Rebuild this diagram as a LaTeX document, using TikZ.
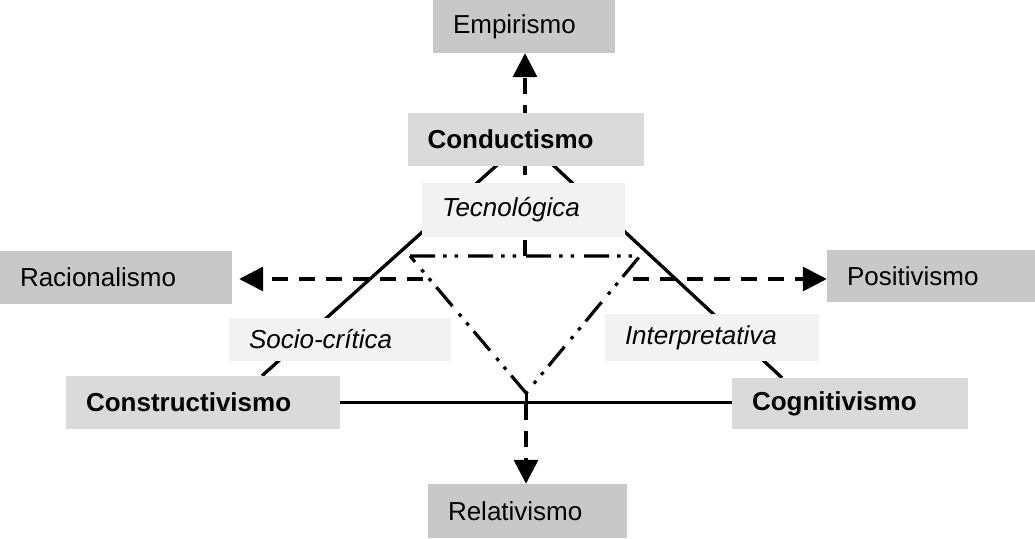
\documentclass[tikz,border=0pt]{standalone}
\usepackage{fontspec}
\setmainfont{Liberation Sans}
\usetikzlibrary{arrows.meta,backgrounds}

\definecolor{grisA}{RGB}{200,200,200}
\definecolor{grisB}{RGB}{218,218,218}
\definecolor{grisC}{RGB}{242,242,242}

\begin{document}
\begin{tikzpicture}[x=1pt,y=-1pt]
   \useasboundingbox (0,0) rectangle (1035,538);
   \begin{scope}[every node/.style={inner xsep=20pt,inner ysep=0pt,align=left,font=\fontsize{26}{30}\selectfont}]
    \node[fill=grisA,text width=142pt,minimum height=53pt] (emp) at (524,26.5) {Empirismo};
    \node[fill=grisB,text width=196pt,minimum height=53pt,font=\fontsize{26}{30}\selectfont\bfseries] (cond) at (525.5,139.5) {Conductismo};
    \node[fill=grisC,text width=163pt,minimum height=54pt,font=\fontsize{26}{30}\selectfont\itshape] (tec) at (523.5,210) {Tecnológica};
    \node[fill=grisA,text width=192pt,minimum height=53pt] (rac) at (116,277.5) {Racionalismo};
    \node[fill=grisA,text width=168pt,minimum height=52pt] (pos) at (931,276) {Positivismo};
    \node[fill=grisC,text width=182pt,minimum height=43pt,font=\fontsize{26}{30}\selectfont\itshape] (soc) at (340,339.5) {Socio-crítica};
    \node[fill=grisC,text width=174pt,minimum height=47pt,font=\fontsize{26}{30}\selectfont\itshape] (int) at (712,337.5) {Interpretativa};
    \node[fill=grisB,text width=234pt,minimum height=53pt,font=\fontsize{26}{30}\selectfont\bfseries] (con) at (203,402.5) {Constructivismo};
    \node[fill=grisB,text width=196pt,minimum height=51pt,font=\fontsize{26}{30}\selectfont\bfseries] (cog) at (850,403.5) {Cognitivismo};
    \node[fill=grisA,text width=159pt,minimum height=54pt] (rel) at (527.5,511) {Relativismo};
   \end{scope}
   \begin{pgfonlayer}{background}
    \coordinate (t1) at (410,256);
    \coordinate (t2) at (640,256);
    \coordinate (t3) at (526,393);
    \coordinate (tc) at (525,256);
    \coordinate (b) at (526,404);
    \coordinate (hl) at (423,279);
    \coordinate (hr) at (633,279);
    \begin{scope}[line width=3.3pt]
     \draw (cond.center) edge ([xshift=59pt]con.north);
     \draw (cond.center) edge ([xshift=-68pt]cog.north);
     \draw (con.east) edge (con.east -| cog.west);
    \end{scope}
    \draw[line width=3.2pt,dash pattern=on 25pt off 8pt on 3.5pt off 8pt on 3.5pt off 10pt] (t1) -- (t2) -- (t3) -- cycle;
    \draw[line width=3pt] (t3) -- (b);
    \begin{scope}[line width=3.4pt,dash pattern=on 16pt off 11pt,-{Triangle[length=24pt,width=24pt]}]
     \draw (tc) -- (tc |- emp.south);
     \draw (b) -- (b |- rel.north);
     \draw[shorten >=7pt] (hl) -- (hl -| rac.east);
     \draw (hr) -- (hr -| pos.west);
    \end{scope}
   \end{pgfonlayer}
\end{tikzpicture}
\end{document}
